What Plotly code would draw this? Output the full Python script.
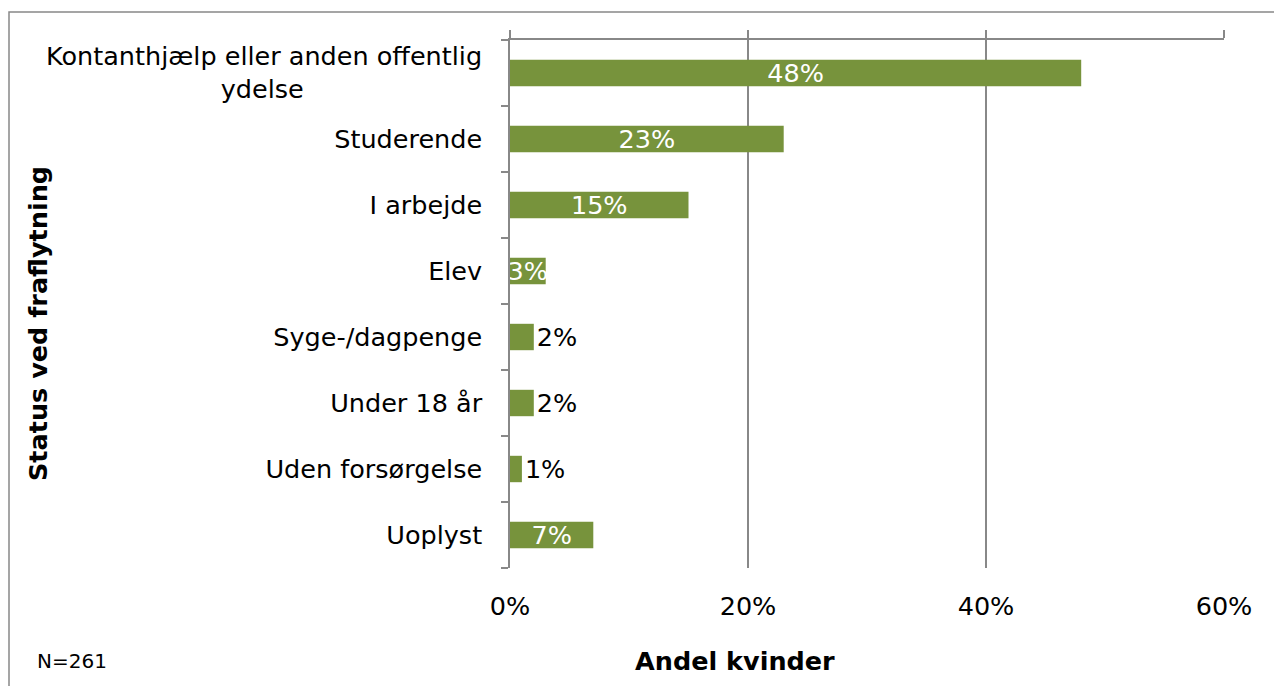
import plotly.graph_objects as go

categories = ["Kontanthjælp eller anden offentlig ydelse", "Studerende", "I arbejde", "Elev",
              "Syge-/dagpenge", "Under 18 år", "Uden forsørgelse", "Uoplyst"]
tick_text = ["Kontanthjælp eller anden offentlig<br>ydelse" + "\u00a0" * 22, "Studerende", "I arbejde", "Elev",
             "Syge-/dagpenge", "Under 18 år", "Uden forsørgelse", "Uoplyst"]
values = [48, 23, 15, 3, 2, 2, 1, 7]
label_pos = ["inside", "inside", "inside", "inside", "outside", "outside", "outside", "inside"]
x_ticks = [0, 20, 40, 60]
x_tick_text = ["0%", "20%", "40%", "60%"]

FONT = "Verdana, DejaVu Sans, sans-serif"
GREEN = "#77933C"
GRAY = "#888888"
FS = 25.5

# page body has an 8px margin; plot area targets page px 510..1224 x 40..568
OFF = 8
L, T = 510 - OFF, 40 - OFF
W, H = 1282 - OFF, 686 - OFF
R = W - (1224 - OFF)
B = H - (568 - OFF)
PW, PH = 1224 - 510, 568 - 40


def px(x):
    return (x - 510) / PW


def py(y):
    return (568 - y) / PH


fig = go.Figure()
fig.add_trace(go.Bar(
    x=values, y=categories, orientation="h",
    marker=dict(color=GREEN, line=dict(width=0)),
    text=[f"{v}%" for v in values],
    textposition=label_pos,
    insidetextanchor="middle",
    constraintext="none",
    insidetextfont=dict(color="white", size=FS, family=FONT),
    outsidetextfont=dict(color="black", size=FS, family=FONT),
    cliponaxis=False,
    hoverinfo="skip",
))
fig.add_trace(go.Scatter(x=[0], y=[categories[0]], xaxis="x2", mode="markers",
                         marker=dict(opacity=0), showlegend=False, hoverinfo="skip"))

fig.update_layout(
    width=W, height=H,
    margin=dict(l=L, r=R, t=T, b=B),
    paper_bgcolor="white", plot_bgcolor="white",
    showlegend=False,
    bargap=0.6,
    font=dict(family=FONT, size=FS, color="black"),
    xaxis=dict(range=[0, 60], tickvals=x_ticks, ticktext=x_tick_text,
               showgrid=True, gridcolor=GRAY, gridwidth=1.5, zeroline=False,
               showline=False, ticks="", ticklabelstandoff=20,
               tickfont=dict(size=FS, family=FONT)),
    xaxis2=dict(range=[0, 60], overlaying="x", side="top", tickvals=x_ticks,
                showticklabels=False, showgrid=False, zeroline=False,
                showline=True, linecolor=GRAY, linewidth=1.5,
                ticks="outside", ticklen=8, tickcolor=GRAY, tickwidth=1.5),
    yaxis=dict(autorange="reversed", tickvals=categories, ticktext=tick_text,
               showline=True, linecolor=GRAY, linewidth=1.5,
               ticks="outside", tickson="boundaries", ticklen=7, tickcolor=GRAY, tickwidth=1.5,
               ticklabelstandoff=21, showgrid=False,
               tickfont=dict(size=FS, family=FONT)),
    shapes=[dict(type="rect", xref="paper", yref="paper",
                 x0=px(9), x1=px(1300), y0=py(720), y1=py(12),
                 line=dict(color=GRAY, width=1.5), fillcolor="rgba(0,0,0,0)", layer="below")],
    annotations=[
        dict(text="<b>Status ved fraflytning</b>", xref="paper", yref="paper",
             x=px(38), y=py(324), textangle=-90, showarrow=False,
             font=dict(size=FS, family=FONT), xanchor="center", yanchor="middle"),
        dict(text="<b>Andel kvinder</b>", xref="paper", yref="paper",
             x=px(735), y=py(661), showarrow=False,
             font=dict(size=FS, family=FONT), xanchor="center", yanchor="middle"),
        dict(text="N=261", xref="paper", yref="paper",
             x=px(35), y=py(661), showarrow=False,
             font=dict(size=20, family=FONT), xanchor="left", yanchor="middle"),
    ],
)

fig.write_html("out.html")
